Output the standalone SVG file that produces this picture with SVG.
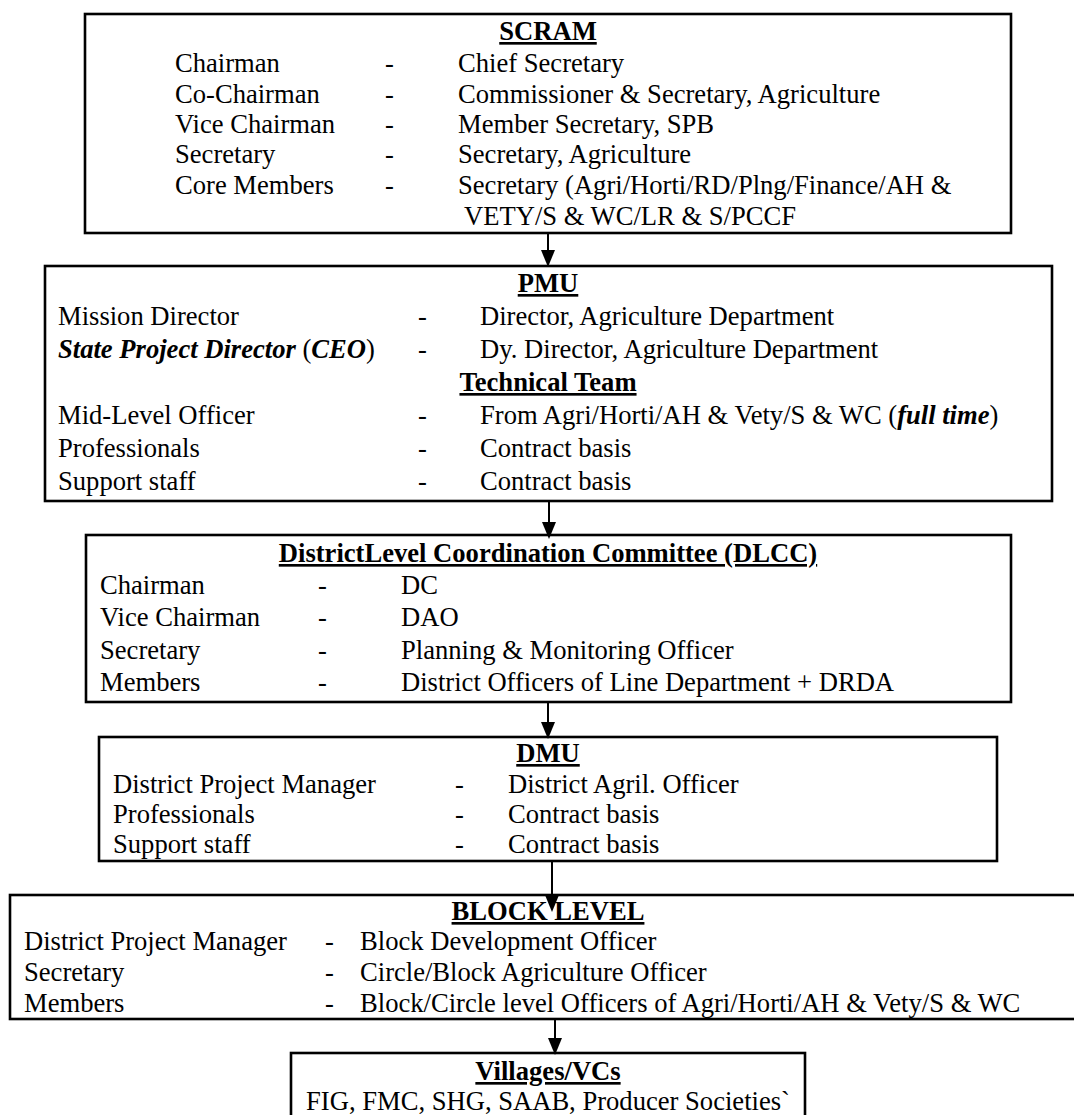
<svg xmlns="http://www.w3.org/2000/svg" width="1074" height="1115" viewBox="0 0 1074 1115">
<style>
  .box { fill: #ffffff; stroke: #000000; stroke-width: 2.6; }
  text { font-family: "Liberation Serif", "Times New Roman", serif; font-size: 26.6px; fill: #000000; }
  .title { font-weight: bold; text-anchor: middle; text-decoration: underline; }
  .bi { font-weight: bold; font-style: italic; }
  .conn { stroke: #000000; stroke-width: 2; fill: none; }
</style>
<defs>
  <marker id="arrow" viewBox="0 0 17 14" refX="7" refY="7" markerWidth="17" markerHeight="14" markerUnits="userSpaceOnUse" orient="auto">
    <path d="M0,0 L17,7 L0,14 Z" fill="#000000"/>
  </marker>
</defs>
<rect x="0" y="0" width="1074" height="1115" fill="#ffffff"/>

<g id="scram">
  <rect class="box" x="85" y="14" width="926" height="219"/>
  <text class="title" x="548" y="40">SCRAM</text>
  <text x="175" y="72">Chairman</text><text x="385" y="72">-</text><text x="458" y="72">Chief Secretary</text>
  <text x="175" y="103">Co-Chairman</text><text x="385" y="103">-</text><text x="458" y="103">Commissioner &amp; Secretary, Agriculture</text>
  <text x="175" y="133">Vice Chairman</text><text x="385" y="133">-</text><text x="458" y="133">Member Secretary, SPB</text>
  <text x="175" y="163">Secretary</text><text x="385" y="163">-</text><text x="458" y="163">Secretary, Agriculture</text>
  <text x="175" y="194">Core Members</text><text x="385" y="194">-</text><text x="458" y="194">Secretary (Agri/Horti/RD/Plng/Finance/AH &amp;</text>
  <text x="464" y="225">VETY/S &amp; WC/LR &amp; S/PCCF</text>
</g>

<g id="pmu">
  <rect class="box" x="45" y="266" width="1007" height="235"/>
  <text class="title" x="548" y="292">PMU</text>
  <text x="58" y="325">Mission Director</text><text x="418" y="325">-</text><text x="480" y="325">Director, Agriculture Department</text>
  <text x="58" y="358"><tspan class="bi">State Project Director </tspan><tspan>(</tspan><tspan class="bi">CEO</tspan><tspan>)</tspan></text><text x="418" y="358">-</text><text x="480" y="358">Dy. Director, Agriculture Department</text>
  <text class="title" x="548" y="391">Technical Team</text>
  <text x="58" y="424">Mid-Level Officer</text><text x="418" y="424">-</text><text x="480" y="424">From Agri/Horti/AH &amp; Vety/S &amp; WC (<tspan class="bi">full time</tspan>)</text>
  <text x="58" y="457">Professionals</text><text x="418" y="457">-</text><text x="480" y="457">Contract basis</text>
  <text x="58" y="490">Support staff</text><text x="418" y="490">-</text><text x="480" y="490">Contract basis</text>
</g>

<g id="dlcc">
  <rect class="box" x="86" y="535" width="925" height="167"/>
  <text class="title" x="548" y="562">DistrictLevel Coordination Committee (DLCC)</text>
  <text x="100" y="594">Chairman</text><text x="318" y="594">-</text><text x="401" y="594">DC</text>
  <text x="100" y="626">Vice Chairman</text><text x="318" y="626">-</text><text x="401" y="626">DAO</text>
  <text x="100" y="659">Secretary</text><text x="318" y="659">-</text><text x="401" y="659">Planning &amp; Monitoring Officer</text>
  <text x="100" y="691">Members</text><text x="318" y="691">-</text><text x="401" y="691">District Officers of Line Department + DRDA</text>
</g>

<g id="dmu">
  <rect class="box" x="99" y="737" width="898" height="124"/>
  <text class="title" x="548" y="762">DMU</text>
  <text x="113" y="793">District Project Manager</text><text x="455" y="793">-</text><text x="508" y="793">District Agril. Officer</text>
  <text x="113" y="823">Professionals</text><text x="455" y="823">-</text><text x="508" y="823">Contract basis</text>
  <text x="113" y="853">Support staff</text><text x="455" y="853">-</text><text x="508" y="853">Contract basis</text>
</g>

<g id="block-level">
  <rect class="box" x="10" y="895" width="1080" height="124"/>
  <text class="title" x="548" y="920">BLOCK LEVEL</text>
  <text x="24" y="950">District Project Manager</text><text x="325" y="950">-</text><text x="360" y="950">Block Development Officer</text>
  <text x="24" y="981">Secretary</text><text x="325" y="981">-</text><text x="360" y="981">Circle/Block Agriculture Officer</text>
  <text x="24" y="1012">Members</text><text x="325" y="1012">-</text><text x="360" y="1012">Block/Circle level Officers of Agri/Horti/AH &amp; Vety/S &amp; WC</text>
</g>

<g id="villages">
  <rect class="box" x="291" y="1053" width="514" height="90"/>
  <text class="title" x="548" y="1080">Villages/VCs</text>
  <text x="548" y="1110" text-anchor="middle">FIG, FMC, SHG, SAAB, Producer Societies`</text>
</g>

<g id="connectors">
  <line class="conn" x1="548" y1="233" x2="548" y2="257" marker-end="url(#arrow)"/>
  <line class="conn" x1="549" y1="501" x2="549" y2="529" marker-end="url(#arrow)"/>
  <line class="conn" x1="548" y1="702" x2="548" y2="729" marker-end="url(#arrow)"/>
  <line class="conn" x1="552" y1="861" x2="552" y2="902" marker-end="url(#arrow)"/>
  <line class="conn" x1="555" y1="1019" x2="555" y2="1045" marker-end="url(#arrow)"/>
</g>
</svg>
